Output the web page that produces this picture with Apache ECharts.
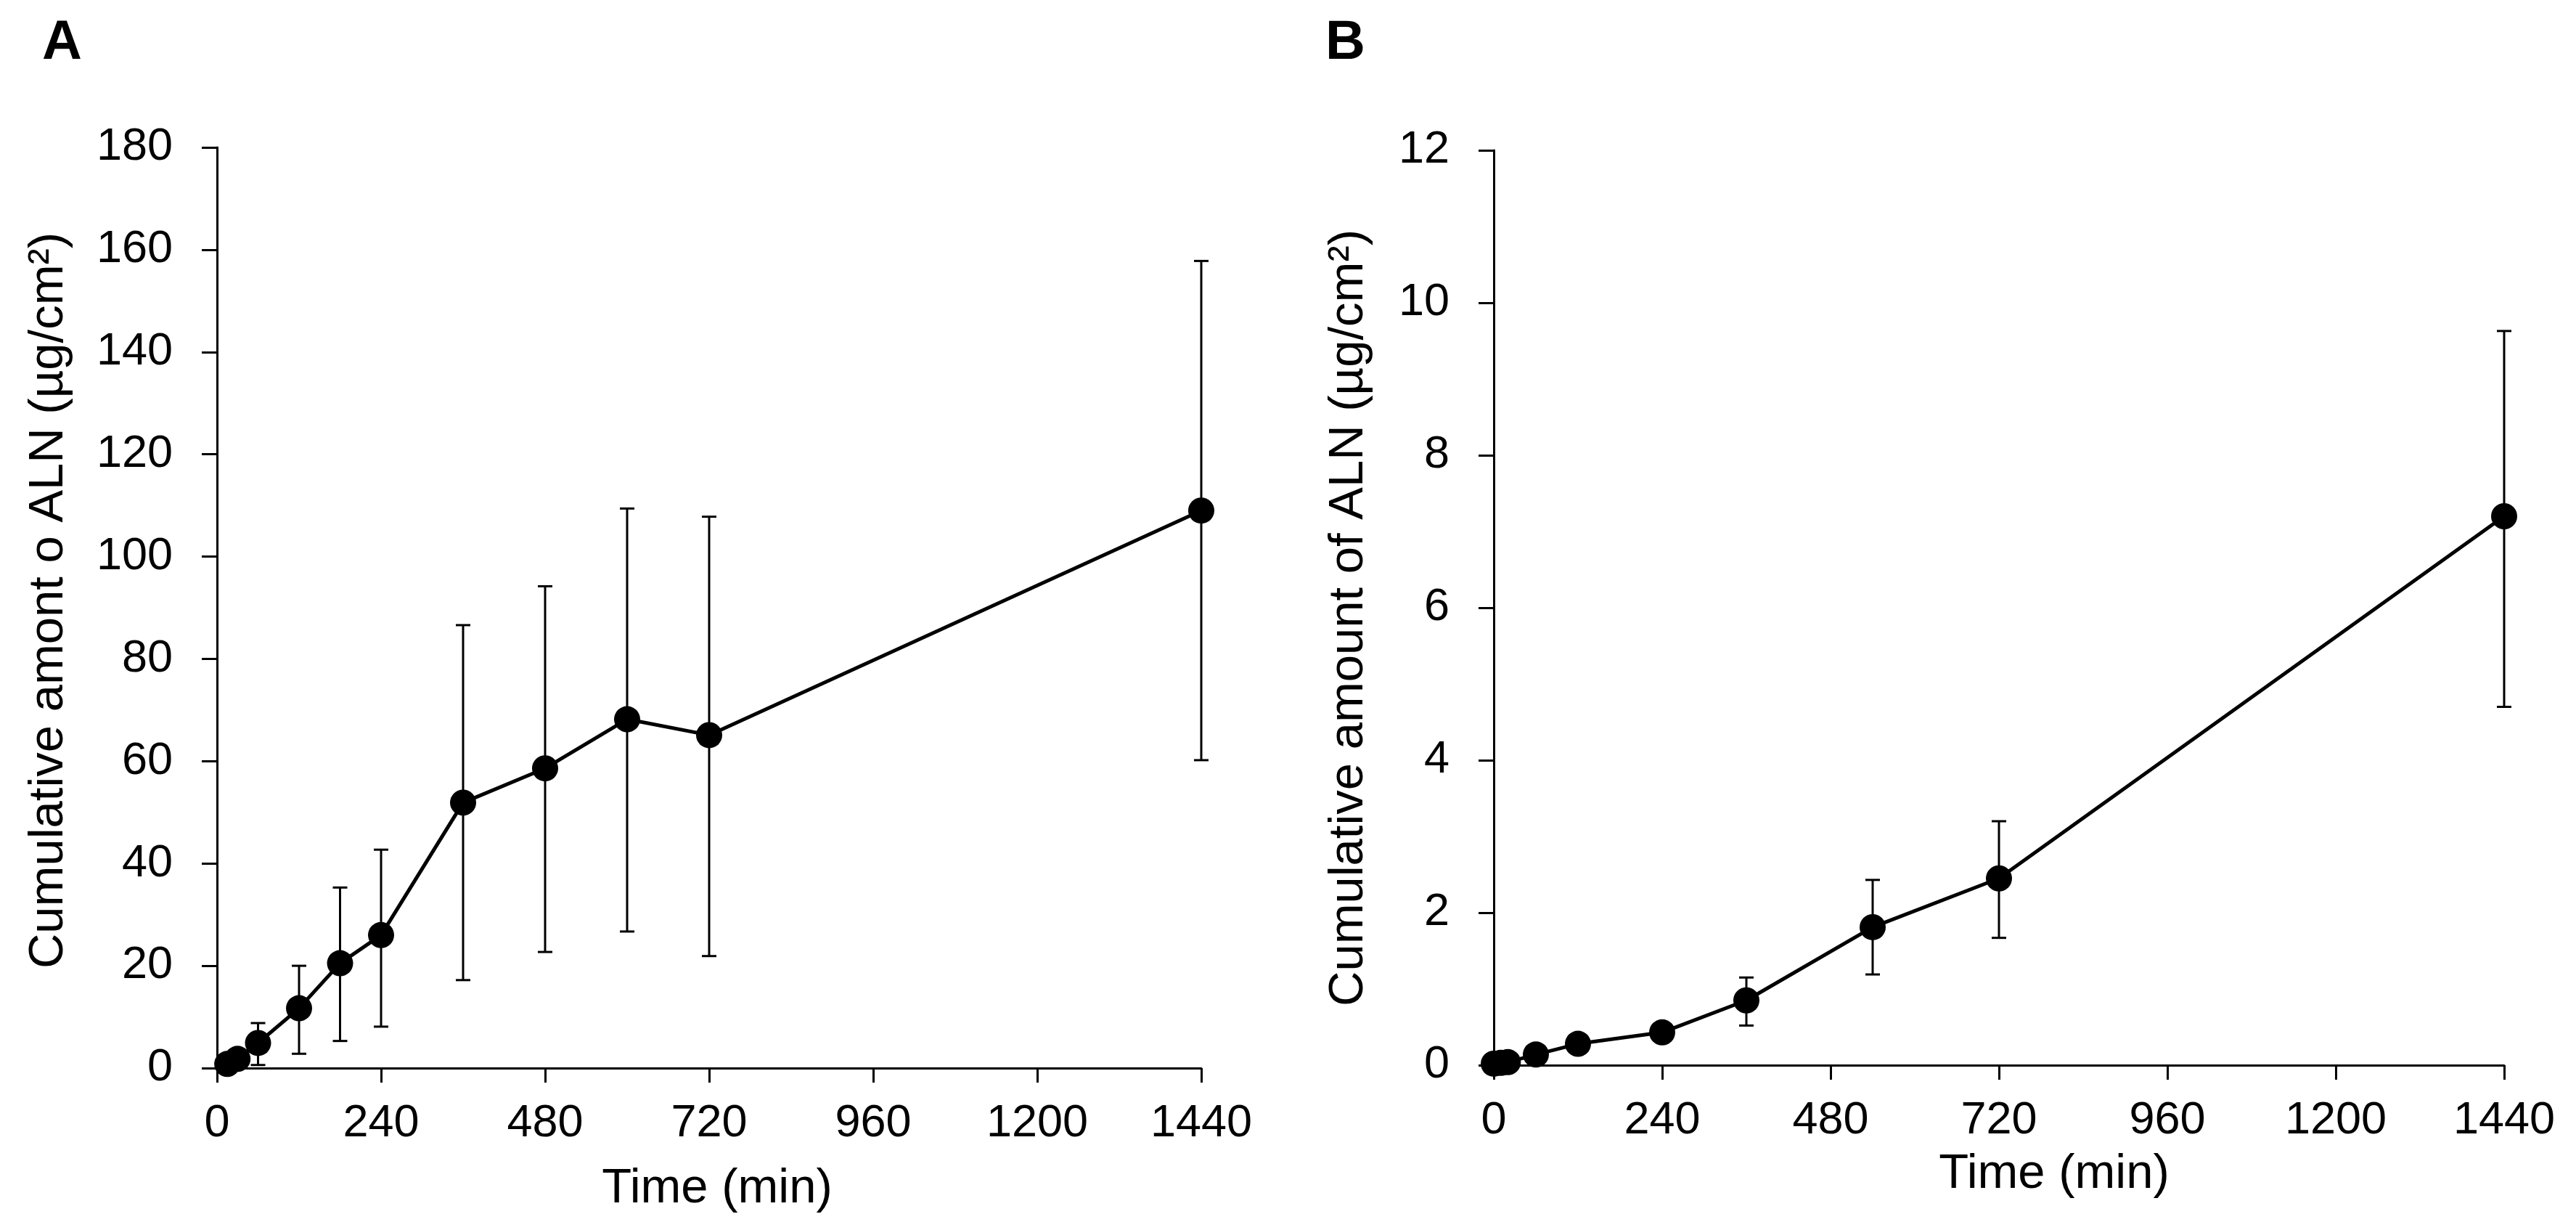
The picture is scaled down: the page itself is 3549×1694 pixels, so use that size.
<!DOCTYPE html>
<html>
<head>
<meta charset="utf-8">
<script src="https://cdn.jsdelivr.net/npm/echarts@6/dist/echarts.min.js"></script>
<style>
html,body{margin:0;padding:0;background:#fff;}
#c{width:3549px;height:1694px;}
</style>
</head>
<body>
<div id="c"></div>
<script>
// Panel A data
const timesA = [15, 30, 60, 120, 180, 240, 360, 480, 600, 720, 1440];
const meanA  = [0.8, 1.8, 4.9, 11.7, 20.5, 26.0, 51.9, 58.6, 68.2, 65.1, 109.0];
const lowA   = [0.3, 1.0, 0.6, 2.8, 5.3, 8.1, 17.2, 22.7, 26.7, 21.9, 60.2];
const highA  = [1.3, 2.6, 8.8, 20.0, 35.3, 42.7, 86.6, 94.2, 109.4, 107.8, 157.8];

// Panel B data
const timesB = [0, 10, 20, 60, 120, 240, 360, 540, 720, 1440];
const meanB  = [0.02, 0.03, 0.04, 0.14, 0.28, 0.43, 0.85, 1.81, 2.45, 7.20];
const lowB   = [0.01, 0.02, 0.03, 0.10, 0.22, 0.36, 0.52, 1.19, 1.67, 4.70];
const highB  = [0.03, 0.04, 0.05, 0.18, 0.34, 0.50, 1.15, 2.43, 3.20, 9.63];

// Axis settings
const xMax = 1440, xStep = 240;
const yMaxA = 180, yStepA = 20;
const yMaxB = 12, yStepB = 2;

const titleA = 'Cumulative amont o ALN (\u00b5g/cm\u00b2)';
const titleB = 'Cumulative amount of ALN (\u00b5g/cm\u00b2)';
const xTitle = 'Time (min)';

const FONT = '"Liberation Sans", Arial, sans-serif';
const FS = 63;
const FT = 67;

const chart = echarts.init(document.getElementById('c'), null, {renderer: 'canvas'});

function xAxisCfg(idx) {
  return {
    type: 'value', gridIndex: idx, min: 0, max: xMax, interval: xStep,
    axisLine: {show: true, onZero: false, lineStyle: {color: '#000', width: 3}},
    axisTick: {show: true, length: 20, lineStyle: {color: '#000', width: 3}},
    axisLabel: {color: '#000', fontSize: FS, fontFamily: FONT, margin: 45, formatter: v => String(v)},
    splitLine: {show: false}
  };
}
function yAxisCfg(idx, max, step) {
  return {
    type: 'value', gridIndex: idx, min: 0, max: max, interval: step,
    axisLine: {show: true, onZero: false, lineStyle: {color: '#000', width: 3}},
    axisTick: {show: true, length: 21, lineStyle: {color: '#000', width: 3}},
    axisLabel: {color: '#000', fontSize: FS, fontFamily: FONT, margin: 61, formatter: v => String(v)},
    splitLine: {show: false}
  };
}

function errRender(params, api) {
  const x = api.value(0), lo = api.value(1), hi = api.value(2);
  const pHi = api.coord([x, hi]);
  const pLo = api.coord([x, lo]);
  const cap = 10;
  const st = {stroke: '#000', lineWidth: 3};
  return {
    type: 'group',
    children: [
      {type: 'line', shape: {x1: pHi[0], y1: pHi[1], x2: pLo[0], y2: pLo[1]}, style: st},
      {type: 'line', shape: {x1: pHi[0] - cap, y1: pHi[1], x2: pHi[0] + cap, y2: pHi[1]}, style: st},
      {type: 'line', shape: {x1: pLo[0] - cap, y1: pLo[1], x2: pLo[0] + cap, y2: pLo[1]}, style: st}
    ]
  };
}

const errDataA = timesA.map((t, i) => [t, lowA[i], highA[i]]);
const errDataB = timesB.map((t, i) => [t, lowB[i], highB[i]]);
const lineDataA = timesA.map((t, i) => [t, meanA[i]]);
const lineDataB = timesB.map((t, i) => [t, meanB[i]]);

const option = {
  backgroundColor: '#fff',
  animation: false,
  grid: [
    {left: 299, top: 203, width: 1356, height: 1268, containLabel: false},
    {left: 2058, top: 207, width: 1392, height: 1260, containLabel: false}
  ],
  xAxis: [xAxisCfg(0), xAxisCfg(1)],
  yAxis: [yAxisCfg(0, yMaxA, yStepA), yAxisCfg(1, yMaxB, yStepB)],
  series: [
    {type: 'custom', xAxisIndex: 0, yAxisIndex: 0, data: errDataA, renderItem: errRender, z: 3, clip: false,
     encode: {x: 0, y: [1, 2]}},
    {type: 'line', xAxisIndex: 0, yAxisIndex: 0, data: lineDataA, symbol: 'circle', symbolSize: 36,
     itemStyle: {color: '#000'}, lineStyle: {color: '#000', width: 5}, z: 4, clip: false},
    {type: 'custom', xAxisIndex: 1, yAxisIndex: 1, data: errDataB, renderItem: errRender, z: 3, clip: false,
     encode: {x: 0, y: [1, 2]}},
    {type: 'line', xAxisIndex: 1, yAxisIndex: 1, data: lineDataB, symbol: 'circle', symbolSize: 36,
     itemStyle: {color: '#000'}, lineStyle: {color: '#000', width: 5}, z: 4, clip: false}
  ],
  graphic: [
    {type: 'text', left: 58, top: 22, style: {text: 'A', fontSize: 76, fontWeight: 'bold', fontFamily: FONT, fill: '#000'}},
    {type: 'text', left: 1826, top: 22, style: {text: 'B', fontSize: 76, fontWeight: 'bold', fontFamily: FONT, fill: '#000'}},
    {type: 'text', x: 68, y: 827, rotation: Math.PI / 2,
     style: {text: titleA, fontSize: FT, fontFamily: FONT, fill: '#000', align: 'center', verticalAlign: 'middle'}},
    {type: 'text', x: 1859, y: 851, rotation: Math.PI / 2,
     style: {text: titleB, fontSize: FT, fontFamily: FONT, fill: '#000', align: 'center', verticalAlign: 'middle'}},
    {type: 'text', x: 988, y: 1638,
     style: {text: xTitle, fontSize: FT, fontFamily: FONT, fill: '#000', align: 'center', verticalAlign: 'middle'}},
    {type: 'text', x: 2830, y: 1618,
     style: {text: xTitle, fontSize: FT, fontFamily: FONT, fill: '#000', align: 'center', verticalAlign: 'middle'}}
  ]
};
chart.setOption(option);
</script>
</body>
</html>
